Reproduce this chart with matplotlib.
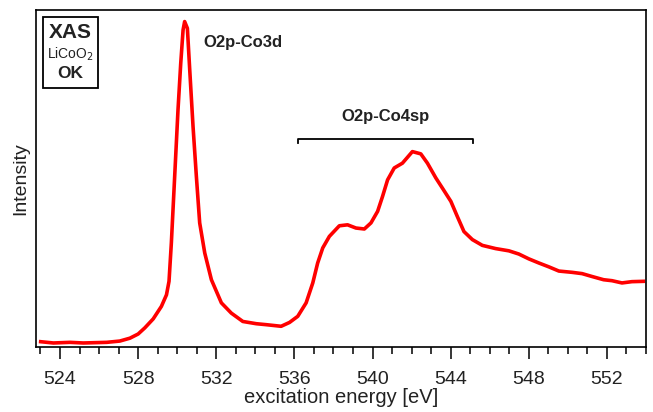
import numpy as np
import matplotlib
matplotlib.use("Agg")
from matplotlib import pyplot as plt
from matplotlib.ticker import MultipleLocator

plt.rcParams['font.family'] = ['Liberation Sans', 'DejaVu Sans']

# O K-edge XAS of LiCoO2 (excitation energy in eV, intensity in arb. units)
energy = [523.01, 523.66, 524.51, 525.19, 526.39, 527.06, 527.58, 528.00, 528.34,
          528.77, 529.19, 529.45, 529.58, 529.70, 529.87, 530.04, 530.18, 530.30,
          530.38, 530.52, 530.64, 530.81, 530.98, 531.15, 531.41, 531.75, 532.26,
          532.77, 533.36, 534.05, 534.56, 535.32, 535.75, 536.17, 536.60, 536.94,
          537.19, 537.45, 537.79, 538.30, 538.72, 539.15, 539.58, 539.92, 540.26,
          540.51, 540.77, 541.11, 541.53, 542.04, 542.47, 542.81, 543.24, 543.58,
          544.01, 544.34, 544.68, 545.11, 545.62, 546.30, 546.98, 547.49, 548.00,
          548.52, 549.03, 549.54, 550.22, 550.73, 551.24, 551.83, 552.26, 552.77,
          553.28, 553.87]
intensity = [0.003, -0.001, 0.001, -0.001, 0.001, 0.005, 0.014, 0.027, 0.046,
             0.074, 0.113, 0.149, 0.191, 0.311, 0.518, 0.725, 0.870, 0.974,
             1.000, 0.979, 0.850, 0.673, 0.518, 0.373, 0.279, 0.196, 0.124,
             0.092, 0.066, 0.059, 0.056, 0.051, 0.063, 0.082, 0.124, 0.186,
             0.248, 0.295, 0.331, 0.364, 0.367, 0.357, 0.354, 0.373, 0.409,
             0.455, 0.507, 0.544, 0.559, 0.595, 0.588, 0.559, 0.513, 0.481,
             0.440, 0.393, 0.346, 0.321, 0.303, 0.293, 0.286, 0.276, 0.261,
             0.248, 0.236, 0.223, 0.219, 0.215, 0.206, 0.196, 0.193, 0.186,
             0.190, 0.191]

# peak labels
co3d_label = "O2p-Co3d"
co3d_pos = (531.35, 0.935)
co4sp_label = "O2p-Co4sp"
co4sp_range = (536.2, 545.15)
co4sp_level = 0.635

text_color = "#222222"

fig = plt.figure(figsize=(6.53, 4.12), dpi=100)
ax = fig.add_axes([36 / 653, 65 / 412, 610 / 653, 337 / 412])

ax.plot(energy, intensity, color="#ff0000", lw=2.6, solid_joinstyle="round")

ax.set_xlim(522.77, 554.0)
ax.set_ylim(-0.0135, 1.036)

ax.xaxis.set_major_locator(MultipleLocator(4))
ax.xaxis.set_minor_locator(MultipleLocator(1))
ax.tick_params(axis="x", which="major", length=8.6, width=1.1, direction="out",
               labelsize=14, labelcolor=text_color, pad=9)
ax.tick_params(axis="x", which="minor", length=5, width=1.1, direction="out")
ax.set_yticks([])
for s in ax.spines.values():
    s.set_linewidth(1.2)
    s.set_color("black")

ax.set_xlabel("excitation energy [eV]", fontsize=14.5, color=text_color, labelpad=0)
ax.set_ylabel("Intensity", fontsize=14, color=text_color, labelpad=5)

ax.text(co3d_pos[0], co3d_pos[1], co3d_label, fontsize=12, fontweight="bold",
        color=text_color, ha="left", va="center")

# bracket over the Co4sp region
x0, x1 = co4sp_range
ax.plot([x0, x0, x1, x1], [co4sp_level - 0.012, co4sp_level, co4sp_level, co4sp_level - 0.012],
        color="black", lw=1.3)
ax.text((x0 + x1) / 2, co4sp_level + 0.068, co4sp_label, fontsize=12,
        fontweight="bold", color=text_color, ha="center", va="center")

# sample box
box = plt.Rectangle((43 / 653, 1 - 88 / 412), 55 / 653, 71 / 412, transform=fig.transFigure,
                    fill=False, edgecolor="black", lw=1.3)
fig.add_artist(box)
cx = 70.5 / 653
fig.text(cx, 1 - 33 / 412, "XAS", fontsize=15, fontweight="bold", color=text_color,
         ha="center", va="center")
fig.text(cx, 1 - 54 / 412, "LiCoO$_2$", fontsize=10, color=text_color,
         ha="center", va="center")
fig.text(cx, 1 - 74 / 412, "OK", fontsize=12.5, fontweight="bold", color=text_color,
         ha="center", va="center")

fig.savefig("out.png", dpi=100)
